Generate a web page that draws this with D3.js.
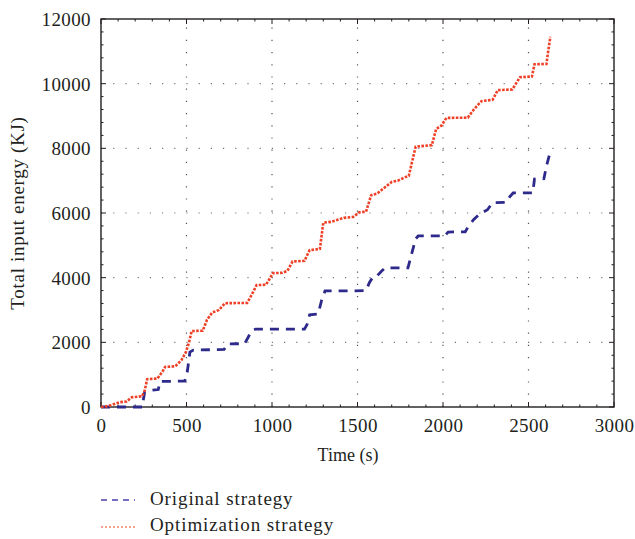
<!DOCTYPE html>
<html><head><meta charset="utf-8">
<script src="https://cdn.jsdelivr.net/npm/d3@7"></script>
<style>body{margin:0;background:#fff}svg text{font-family:"Liberation Serif","DejaVu Serif",serif;fill:#231f20}</style>
</head><body><svg id="c" width="635" height="539"></svg>
<script>
const xTicks=[0,500,1000,1500,2000,2500,3000];
const yTicks=[0,2000,4000,6000,8000,10000,12000];
const seriesNames=["Original strategy","Optimization strategy"];
const origT=[0,240,255,300,335,345,490,505,520,540,720,740,840,860,880,905,1190,1205,1220,1270,1290,1310,1470,1550,1570,1590,1610,1640,1660,1795,1810,1840,1855,2010,2030,2130,2150,2180,2210,2260,2290,2370,2390,2410,2525,2535,2590,2605,2625];
const origE=[0,0,450,520,540,790,800,1100,1700,1760,1780,1950,1960,2150,2350,2410,2410,2550,2850,2880,3300,3590,3590,3600,3850,4020,4030,4200,4300,4300,4600,5200,5290,5290,5410,5420,5600,5800,5950,6100,6320,6330,6500,6620,6620,7050,7060,7450,7850];
const optT=[0,30,60,110,150,180,240,255,270,330,360,375,435,470,495,515,530,595,620,650,690,725,855,880,910,965,990,1005,1060,1090,1120,1190,1220,1280,1300,1350,1420,1475,1510,1550,1580,1615,1650,1700,1735,1780,1800,1840,1935,1960,1990,2020,2145,2180,2225,2290,2320,2405,2450,2520,2535,2605,2615,2628];
const optE=[0,20,60,150,170,300,330,500,860,880,1100,1240,1260,1450,1680,2000,2350,2360,2700,2920,3000,3210,3220,3460,3770,3780,4000,4140,4150,4210,4500,4520,4850,4890,5700,5730,5850,5880,6020,6040,6550,6600,6750,6960,7000,7110,7150,8050,8100,8600,8700,8940,8950,9200,9460,9500,9800,9820,10200,10220,10600,10610,11000,11450];

const svg=d3.select("#c");
const L=101,R=614,T=19,B=407;
const x=d3.scaleLinear().domain([0,3000]).range([L,R]);
const y=d3.scaleLinear().domain([0,12000]).range([B,T]);

// grid
const g=svg.append("g");
xTicks.slice(1,-1).forEach(t=>g.append("line").attr("x1",x(t)).attr("x2",x(t)).attr("y1",B).attr("y2",T)
  .attr("stroke","#555").attr("stroke-width",1.2).attr("stroke-dasharray","1.2,11"));
yTicks.slice(1,-1).forEach(t=>g.append("line").attr("x1",L).attr("x2",R).attr("y1",y(t)).attr("y2",y(t))
  .attr("stroke","#777").attr("stroke-width",1.2).attr("stroke-dasharray","1.2,11"));

// axes
const fs=19;
const fmt=d3.format("d");
const ax=svg.append("g").attr("transform",`translate(0,${B})`).call(d3.axisBottom(x).tickValues(xTicks).tickFormat(fmt).tickSize(0).tickPadding(11));
const ay=svg.append("g").attr("transform",`translate(${L},0)`).call(d3.axisLeft(y).tickValues(yTicks).tickFormat(fmt).tickSize(0).tickPadding(10));
[ax,ay].forEach(a=>{a.select(".domain").remove();a.selectAll("text").attr("font-size",fs).attr("fill","#231f20").style("font-family","Liberation Serif").style("letter-spacing","0.4px");});
ay.selectAll("text").attr("dy","0.35em");
ax.selectAll("text").attr("dy","0.75em");

// ticks on all 4 sides
const tk=svg.append("g").attr("stroke","#231f20");
d3.range(0,3001,100).forEach(t=>{
  const len=(t%500===0)?5:2.5;
  tk.append("line").attr("x1",x(t)).attr("x2",x(t)).attr("y1",B).attr("y2",B-len).attr("stroke-width",1);
  tk.append("line").attr("x1",x(t)).attr("x2",x(t)).attr("y1",T).attr("y2",T+len).attr("stroke-width",1);
});
d3.range(0,12001,400).forEach(t=>{
  const len=(t%2000===0)?5:2.5;
  tk.append("line").attr("x1",L).attr("x2",L+len).attr("y1",y(t)).attr("y2",y(t)).attr("stroke-width",1);
  tk.append("line").attr("x1",R).attr("x2",R-len).attr("y1",y(t)).attr("y2",y(t)).attr("stroke-width",1);
});
svg.append("rect").attr("x",L).attr("y",T).attr("width",R-L).attr("height",B-T).attr("fill","none").attr("stroke","#231f20").attr("stroke-width",1.4);

// lines
const line=d3.line().x(d=>x(d[0])).y(d=>y(d[1]));
const orig=origT.map((t,i)=>[t,origE[i]]);
const opt=optT.map((t,i)=>[t,optE[i]]);
svg.append("path").datum(orig).attr("d",line).attr("fill","none").attr("stroke","#2e2a8c").attr("stroke-width",2.8).attr("stroke-dasharray","9,7");
svg.append("path").datum(opt).attr("d",line).attr("fill","none").attr("stroke","#ee4027").attr("stroke-width",2.6).attr("stroke-dasharray","2.6,1.4");

// titles
svg.append("text").attr("x",348).attr("y",461).attr("text-anchor","middle").attr("font-size",18).text("Time (s)");
svg.append("text").attr("transform","translate(24,213) rotate(-90)").attr("text-anchor","middle").attr("font-size",fs).style("letter-spacing","0.7px").text("Total input energy (KJ)");

// legend
const lg=svg.append("g");
lg.append("line").attr("x1",101).attr("x2",135).attr("y1",500).attr("y2",500).attr("stroke","#4a3fb0").attr("stroke-width",1.3).attr("stroke-dasharray","6,5");
lg.append("text").attr("x",150).attr("y",505).attr("font-size",fs).style("letter-spacing","0.9px").text(seriesNames[0]);
lg.append("line").attr("x1",101).attr("x2",135).attr("y1",527).attr("y2",527).attr("stroke","#ee4027").attr("stroke-width",1.1).attr("stroke-dasharray","2,2");
lg.append("text").attr("x",150).attr("y",531).attr("font-size",fs).style("letter-spacing","0.9px").text(seriesNames[1]);
</script></body></html>
